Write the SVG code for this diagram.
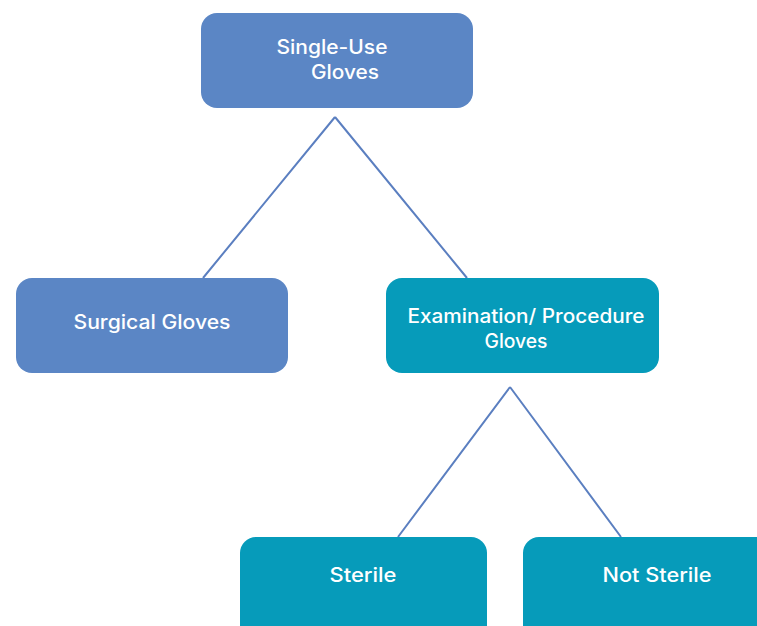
<svg xmlns="http://www.w3.org/2000/svg" width="757" height="626" viewBox="0 0 757 626">
<style>
.blue{fill:#5B86C5}
.teal{fill:#069BBA}
.t{fill:#ffffff;font-family:Inter,"Liberation Sans",sans-serif;font-size:19.5px;font-weight:500;text-anchor:middle}
.c{stroke:#5B7FC0;stroke-width:2;fill:none}
</style>
<rect width="757" height="626" fill="#ffffff"/>
<g id="connectors">
<path class="c" d="M335,117 L203,278 M335,117 L467,278"/>
<path class="c" d="M510,387 L398,537 M510,387 L621,537"/>
</g>
<g id="single-use">
<rect class="blue" x="201" y="13" width="272" height="95" rx="16"/>
<text class="t" x="332" y="54" textLength="111" lengthAdjust="spacingAndGlyphs">Single-Use</text>
<text class="t" x="345" y="79" textLength="68" lengthAdjust="spacingAndGlyphs">Gloves</text>
</g>
<g id="surgical">
<rect class="blue" x="16" y="278" width="272" height="95" rx="16"/>
<text class="t" x="152" y="329" textLength="157" lengthAdjust="spacingAndGlyphs">Surgical Gloves</text>
</g>
<g id="examination">
<rect class="teal" x="386" y="278" width="273" height="95" rx="16"/>
<text class="t" x="526" y="323" textLength="237" lengthAdjust="spacingAndGlyphs">Examination/ Procedure</text>
<text class="t" x="516" y="348" textLength="63" lengthAdjust="spacingAndGlyphs">Gloves</text>
</g>
<g id="sterile">
<rect class="teal" x="240" y="537" width="247" height="110" rx="16"/>
<text class="t" x="363" y="582" textLength="67" lengthAdjust="spacingAndGlyphs">Sterile</text>
</g>
<g id="not-sterile">
<rect class="teal" x="523" y="537" width="260" height="110" rx="16"/>
<text class="t" x="657" y="582" textLength="109" lengthAdjust="spacingAndGlyphs">Not Sterile</text>
</g>
</svg>
